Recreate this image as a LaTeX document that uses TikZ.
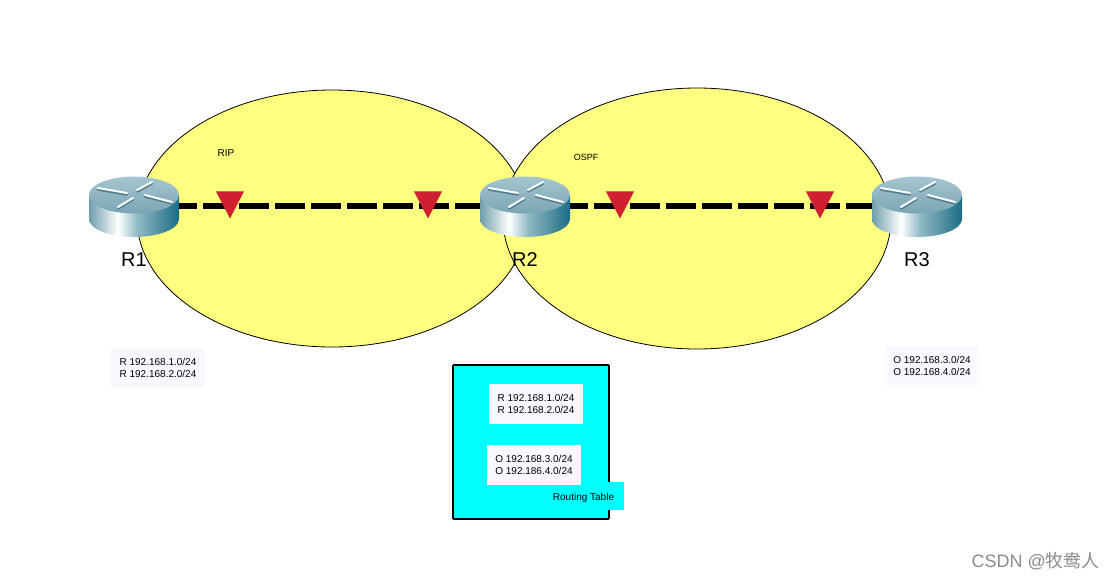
\documentclass[tikz,border=0pt]{standalone}
\usepackage{fontspec}
\setmainfont{Liberation Sans}
\newfontfamily\cjk{Noto Sans CJK SC}
\usetikzlibrary{positioning,shapes.geometric}
\definecolor{areayellow}{HTML}{FFFF80}
\definecolor{markred}{HTML}{CE2030}
\definecolor{tablebg}{HTML}{F8F8FF}
\definecolor{panelcyan}{HTML}{00FFFF}
\definecolor{routerA}{HTML}{6F9DAC}
\definecolor{routerB}{HTML}{8FB8C4}
\definecolor{routerC}{HTML}{1B6C84}
\definecolor{routerTop}{HTML}{A6C6D0}
\definecolor{routerRim}{HTML}{7AA4B3}
\definecolor{routerDark}{HTML}{4F7F90}
\pgfdeclarehorizontalshading{routerbody}{100bp}{
  color(0bp)=(routerA); color(25bp)=(routerA); color(41bp)=(white);
  color(52bp)=(routerB); color(75bp)=(routerC); color(100bp)=(routerC)}

\begin{document}
\begin{tikzpicture}[
    x=1pt, y=-1pt,
    area/.style={draw, line width=0.8pt, fill=areayellow, ellipse, inner sep=0pt},
    routerbox/.style={minimum width=90pt, minimum height=60pt, inner sep=0pt},
    routername/.style={font=\fontsize{20}{22}\selectfont},
    link/.style={line width=5.5pt, dash pattern=on 30pt off 6pt, dash phase=3pt},
    flagmark/.style={fill=markred, isosceles triangle, isosceles triangle stretches,
                minimum width=28pt, minimum height=27pt, inner sep=0pt,
                shape border rotate=-90, anchor=apex},
    small/.style={font=\fontsize{10}{12}\selectfont},
    tablebox/.style={small, fill=tablebg, align=center,
                minimum width=94pt, minimum height=40pt, inner sep=0pt},
    router/.pic={
        \shade[shading=routerbody] (-45,-11) -- (-45,13) arc[start angle=180, end angle=0, x radius=45, y radius=18]
            -- (45,-11) -- cycle;
        \shade[top color=routerTop, bottom color=routerRim] (0,-11) ellipse[x radius=45, y radius=18.5];
        \foreach \xa/\ya/\xb/\yb in {-36/-18/-7/-13, 18/-24/3/-16, 11/-11/38/-4, -1/-8/-16/1} {
            \draw[routerDark, line width=2.5pt, line cap=round] (\xa,\ya+1.5) -- (\xb,\yb+1.5);
            \draw[white, line width=2pt, line cap=round] (\xa,\ya) -- (\xb,\yb);
        }
    }
]

\useasboundingbox (0,0) rectangle (1116,582);

\node[area, minimum width=390pt, minimum height=257pt] (rip) at (332,218.5) {};
\node[area, minimum width=388pt, minimum height=261pt] (ospf) at (697,218.5) {};

\node[routerbox] (r1) at (134,206) {};
\node[routerbox] (r2) at (525,206) {};
\node[routerbox] (r3) at (917,206) {};

\draw[link] (r1.center) -- (r2.center);
\draw[link] (r2.center) -- (r3.center);

\foreach \name in {r1,r2,r3} {
    \pic at (\name) {router};
}

\foreach \name/\xpos in {m1/230, m2/428, m3/620, m4/820} {
    \node[flagmark] (\name) at (\xpos,219) {};
}

\node[routername] (r1name) at (134,260) {R1};
\node[routername] (r2name) at (525,260) {R2};
\node[routername] (r3name) at (917,260) {R3};

\node[small] (riplabel) at (226,153) {RIP};
\node[small, font=\fontsize{9}{11}\selectfont] (ospflabel) at (586,157.5) {OSPF};

\node[tablebox] (r1table) at (158,367.5)
    {R 192.168.1.0/24\\R 192.168.2.0/24};
\node[tablebox] (r3table) at (932,365.5)
    {O 192.168.3.0/24\\O 192.168.4.0/24};

\node[draw, line width=1.8pt, fill=panelcyan, rounded corners=1pt,
      minimum width=156pt, minimum height=154pt] (r2panel) at (531,442) {};
\node[small, fill=panelcyan, minimum width=74pt, minimum height=28pt, inner sep=0pt, text depth=0pt]
    (r2caption) at (587,496) {\hspace*{-7pt}\raisebox{-1.5pt}{Routing Table}};
\node[tablebox] (r2rip) at (536,403.5)
    {R 192.168.1.0/24\\R 192.168.2.0/24};
\node[tablebox] (r2ospf) at (534,464.5)
    {O 192.168.3.0/24\\O 192.186.4.0/24};

\node[anchor=east, text=black!45, font=\fontsize{18}{20}\selectfont, inner sep=0pt] (mark) at (1100,561)
    {CSDN @{\cjk 牧鸯人}};

\end{tikzpicture}
\end{document}
